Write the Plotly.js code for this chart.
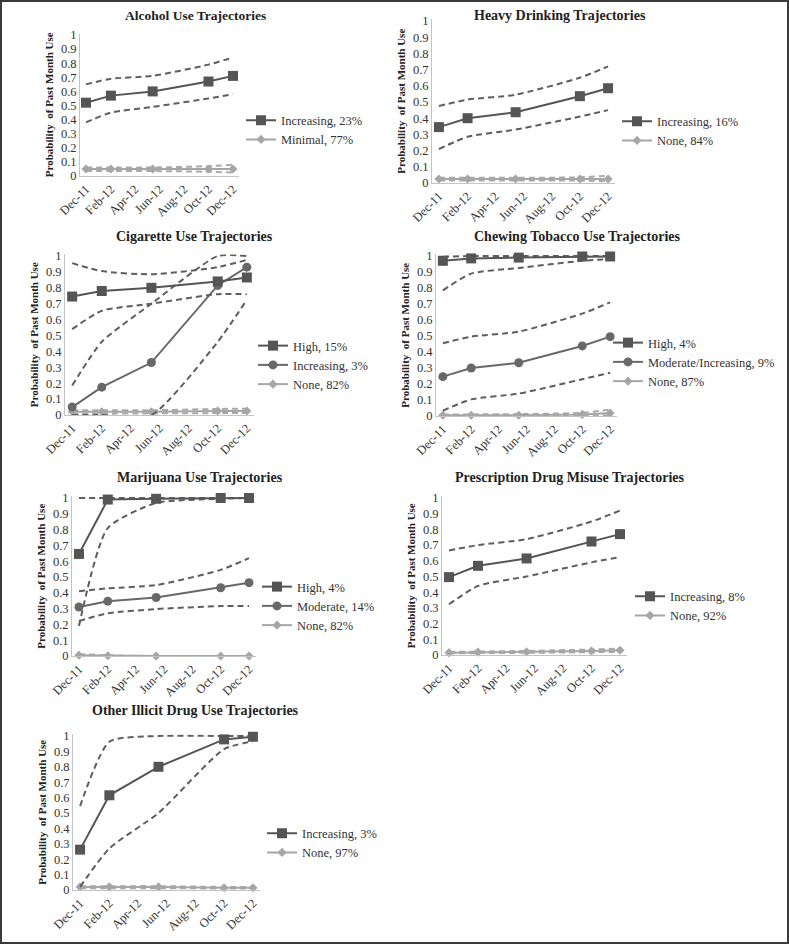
<!DOCTYPE html>
<html>
<head>
<meta charset="utf-8">
<script src="https://cdn.plot.ly/plotly-3.0.1.min.js"></script>
<style>
  html, body { margin: 0; padding: 0; background: #ffffff; }
  #chart { width: 789px; height: 944px; }
</style>
</head>
<body>
<div id="chart"></div>
<script>
// survey waves and axis ticks
const waves = ['2011-12-01', '2012-02-01', '2012-05-15', '2012-10-01', '2012-12-01'];
const monthTicks = ['2011-12-01', '2012-02-01', '2012-04-01', '2012-06-01', '2012-08-01', '2012-10-01', '2012-12-01'];
const monthLabels = ['Dec-11', 'Feb-12', 'Apr-12', 'Jun-12', 'Aug-12', 'Oct-12', 'Dec-12'];

const panelTitles = [
  'Alcohol Use Trajectories',
  'Heavy Drinking Trajectories',
  'Cigarette Use Trajectories',
  'Chewing Tobacco Use Trajectories',
  'Marijuana Use Trajectories',
  'Prescription Drug Misuse Trajectories',
  'Other Illicit Drug Use Trajectories'
];

// 1. alcohol
const alcIncreasing   = [0.52, 0.57, 0.60, 0.67, 0.71];
const alcIncreasingHi = [0.65, 0.69, 0.71, 0.79, 0.84];
const alcIncreasingLo = [0.38, 0.45, 0.49, 0.55, 0.58];
const alcMinimal      = [0.05, 0.05, 0.05, 0.05, 0.05];
const alcMinimalHi    = [0.06, 0.06, 0.06, 0.07, 0.08];
const alcMinimalLo    = [0.035, 0.035, 0.035, 0.03, 0.025];

// 2. heavy drinking
const hdIncreasing   = [0.345, 0.40, 0.437, 0.536, 0.585];
const hdIncreasingHi = [0.475, 0.515, 0.545, 0.65, 0.72];
const hdIncreasingLo = [0.21, 0.285, 0.33, 0.41, 0.45];
const hdNone         = [0.025, 0.025, 0.025, 0.025, 0.025];
const hdNoneHi       = [0.032, 0.032, 0.032, 0.035, 0.045];
const hdNoneLo       = [0.015, 0.015, 0.015, 0.015, 0.012];

// 3. cigarettes
const cigHigh         = [0.745, 0.78, 0.80, 0.84, 0.865];
const cigHighHi       = [0.955, 0.905, 0.885, 0.93, 0.975];
const cigHighLo       = [0.54, 0.655, 0.70, 0.76, 0.76];
const cigIncreasing   = [0.05, 0.175, 0.33, 0.815, 0.93];
const cigIncreasingHi = [0.185, 0.46, 0.70, 1.0, 1.0];
const cigIncreasingLo = [0.0, 0.0, 0.0, 0.46, 0.725];
const cigNone         = [0.02, 0.02, 0.02, 0.025, 0.025];
const cigNoneHi       = [0.03, 0.03, 0.03, 0.038, 0.04];
const cigNoneLo       = [0.01, 0.01, 0.01, 0.012, 0.012];

// 4. chewing tobacco
const chwHigh     = [0.97, 0.985, 0.99, 0.997, 0.997];
const chwHighHi   = [0.995, 1.0, 1.0, 1.0, 1.0];
const chwHighLo   = [0.785, 0.89, 0.925, 0.97, 0.98];
const chwModerate   = [0.246, 0.30, 0.333, 0.438, 0.496];
const chwModerateHi = [0.455, 0.496, 0.527, 0.64, 0.71];
const chwModerateLo = [0.033, 0.104, 0.14, 0.23, 0.27];
const chwNone     = [0.005, 0.005, 0.005, 0.01, 0.018];
const chwNoneHi   = [0.01, 0.01, 0.012, 0.02, 0.04];
const chwNoneLo   = [0.0, 0.0, 0.0, 0.003, 0.005];

// 5. marijuana
const mjHigh       = [0.646, 0.99, 0.995, 1.0, 1.0];
const mjHighHi     = [1.0, 1.0, 1.0, 1.0, 1.0];
const mjHighLo     = [0.19, 0.81, 0.968, 0.995, 1.0];
const mjModerate   = [0.31, 0.347, 0.37, 0.432, 0.464];
const mjModerateHi = [0.41, 0.428, 0.449, 0.545, 0.62];
const mjModerateLo = [0.222, 0.27, 0.297, 0.316, 0.316];
const mjNone       = [0.005, 0.002, 0.0, 0.0, 0.0];
const mjNoneHi     = [0.012, 0.004, 0.0, 0.0, 0.0];
const mjNoneLo     = [0.0, 0.0, 0.0, 0.0, 0.0];

// 6. prescription drugs
const rxIncreasing   = [0.496, 0.568, 0.615, 0.723, 0.77];
const rxIncreasingHi = [0.666, 0.70, 0.738, 0.85, 0.92];
const rxIncreasingLo = [0.323, 0.44, 0.50, 0.59, 0.623];
const rxNone         = [0.015, 0.018, 0.02, 0.025, 0.03];
const rxNoneHi       = [0.02, 0.022, 0.026, 0.035, 0.04];
const rxNoneLo       = [0.01, 0.012, 0.014, 0.018, 0.02];

// 7. other illicit drugs
const oiIncreasing   = [0.262, 0.615, 0.80, 0.978, 0.995];
const oiIncreasingHi = [0.545, 0.963, 1.0, 1.0, 1.0];
const oiIncreasingLo = [0.02, 0.27, 0.50, 0.915, 0.965];
const oiNone         = [0.02, 0.02, 0.02, 0.015, 0.015];
const oiNoneHi       = [0.025, 0.025, 0.025, 0.02, 0.02];
const oiNoneLo       = [0.012, 0.012, 0.012, 0.01, 0.01];

// series per panel: [legend label, values, upper, lower, style]
const panelSeries = [
  [['Increasing, 23%', alcIncreasing, alcIncreasingHi, alcIncreasingLo, 'dark'],
   ['Minimal, 77%', alcMinimal, alcMinimalHi, alcMinimalLo, 'light']],
  [['Increasing, 16%', hdIncreasing, hdIncreasingHi, hdIncreasingLo, 'dark'],
   ['None, 84%', hdNone, hdNoneHi, hdNoneLo, 'light']],
  [['High, 15%', cigHigh, cigHighHi, cigHighLo, 'dark'],
   ['Increasing, 3%', cigIncreasing, cigIncreasingHi, cigIncreasingLo, 'mid'],
   ['None, 82%', cigNone, cigNoneHi, cigNoneLo, 'light']],
  [['High, 4%', chwHigh, chwHighHi, chwHighLo, 'dark'],
   ['Moderate/Increasing, 9%', chwModerate, chwModerateHi, chwModerateLo, 'mid'],
   ['None, 87%', chwNone, chwNoneHi, chwNoneLo, 'light']],
  [['High, 4%', mjHigh, mjHighHi, mjHighLo, 'dark'],
   ['Moderate, 14%', mjModerate, mjModerateHi, mjModerateLo, 'mid'],
   ['None, 82%', mjNone, mjNoneHi, mjNoneLo, 'light']],
  [['Increasing, 8%', rxIncreasing, rxIncreasingHi, rxIncreasingLo, 'dark'],
   ['None, 92%', rxNone, rxNoneHi, rxNoneLo, 'light']],
  [['Increasing, 3%', oiIncreasing, oiIncreasingHi, oiIncreasingLo, 'dark'],
   ['None, 97%', oiNone, oiNoneHi, oiNoneLo, 'light']]
];

// ---------- layout geometry (pixels in the 789x944 page) ----------
const W = 789, H = 944;
const SERIF = 'Liberation Serif, Times New Roman, serif';
const STYLE = {
  dark:  { color: '#555555', symbol: 'square',  size: 10, ci: '#5e5e5e', width: 2 },
  mid:   { color: '#686868', symbol: 'circle',  size: 9,  ci: '#5e5e5e', width: 2 },
  light: { color: '#a6a6a6', symbol: 'diamond', size: 7,  ci: '#a9a9a9', width: 2 }
};
// x0/x1: plot left/right, yTop (value 1) / yBot (value 0), title centre, legend left/middle
const boxes = [
  { x0: 80,  x1: 239, yTop: 35,  yBot: 176, tx: 195, ty: 16,  lx: 241, ly: 130, ts: 13.5 },
  { x0: 432, x1: 615, yTop: 21,  yBot: 183, tx: 560, ty: 15,  lx: 617, ly: 131, ts: 14 },
  { x0: 65,  x1: 254, yTop: 256, yBot: 415, tx: 194, ty: 236, lx: 253, ly: 365, ts: 14 },
  { x0: 436, x1: 617, yTop: 256, yBot: 416, tx: 577, ty: 236, lx: 608, ly: 362, ts: 14 },
  { x0: 72,  x1: 256, yTop: 498, yBot: 656, tx: 200, ty: 477, lx: 257, ly: 606, ts: 14 },
  { x0: 442, x1: 627, yTop: 498, yBot: 655, tx: 570, ty: 477, lx: 630, ly: 606, ts: 14 },
  { x0: 73,  x1: 260, yTop: 736, yBot: 890, tx: 195, ty: 710, lx: 262, ly: 843, ts: 14 }
];
const X_RANGE = ['2011-11-16', '2012-12-16'];
const Y_MAX = 1.01;

const data = [];
const layout = {
  width: W, height: H,
  margin: { l: 0, r: 0, t: 0, b: 0 },
  paper_bgcolor: '#ffffff',
  plot_bgcolor: '#ffffff',
  font: { family: SERIF, size: 12, color: '#333333' },
  showlegend: true,
  annotations: [],
  shapes: [{ type: 'rect', xref: 'paper', yref: 'paper', x0: 0, x1: 1, y0: 0, y1: 1,
             line: { color: '#3a3a3a', width: 4 } }]
};

boxes.forEach((b, i) => {
  const n = i + 1;
  const xa = 'x' + (n === 1 ? '' : n), ya = 'y' + (n === 1 ? '' : n);
  const lg = 'legend' + (n === 1 ? '' : n);
  const top = b.yTop - (Y_MAX - 1) * (b.yBot - b.yTop);

  layout['xaxis' + (n === 1 ? '' : n)] = {
    domain: [b.x0 / W, b.x1 / W], anchor: ya, type: 'date', range: X_RANGE,
    tickmode: 'array', tickvals: monthTicks, ticktext: monthLabels, tickangle: -45,
    showline: true, linecolor: '#c4c4c4', linewidth: 1, showgrid: false, zeroline: false,
    ticks: '', tickfont: { family: SERIF, size: 12.5, color: '#333333' }, fixedrange: true
  };
  layout['yaxis' + (n === 1 ? '' : n)] = {
    domain: [1 - b.yBot / H, 1 - top / H], anchor: xa, range: [0, Y_MAX],
    tickmode: 'linear', tick0: 0, dtick: 0.1,
    showline: true, linecolor: '#c4c4c4', linewidth: 1, showgrid: false, zeroline: false,
    ticks: '', tickfont: { family: SERIF, size: 12.5, color: '#333333' }, fixedrange: true,
    title: { text: '<b>Probability  of Past Month Use</b>', standoff: 5,
             font: { family: SERIF, size: 11, color: '#222222' } }
  };
  layout[lg] = {
    x: b.lx / W, y: 1 - b.ly / H, xanchor: 'left', yanchor: 'middle',
    bgcolor: 'rgba(0,0,0,0)', borderwidth: 0, itemwidth: 30, tracegroupgap: 0,
    font: { family: SERIF, size: 12.5, color: '#333333' }, traceorder: 'normal'
  };
  layout.annotations.push({
    xref: 'paper', yref: 'paper', x: b.tx / W, y: 1 - b.ty / H, xanchor: 'center', yanchor: 'middle',
    text: '<b>' + panelTitles[i] + '</b>', showarrow: false,
    font: { family: SERIF, size: b.ts, color: '#222222' }
  });

  // draw light groups first so dark lines sit on top; legend keeps original order via legendrank
  const series = panelSeries[i];
  series.slice().reverse().forEach((s) => {
    const [label, vals, hi, lo, styleKey] = s;
    const st = STYLE[styleKey];
    [hi, lo].forEach((band) => {
      data.push({
        x: waves, y: band, xaxis: xa, yaxis: ya, type: 'scatter', mode: 'lines',
        line: { color: st.ci, width: 2, dash: '6px,4px', shape: 'spline', smoothing: 0.6 },
        showlegend: false, hoverinfo: 'skip', cliponaxis: false
      });
    });
    data.push({
      x: waves, y: vals, xaxis: xa, yaxis: ya, type: 'scatter', mode: 'lines+markers',
      name: label, legend: lg, legendrank: series.indexOf(s) + 1,
      line: { color: st.color, width: st.width },
      marker: { color: st.color, symbol: st.symbol, size: st.size },
      hoverinfo: 'skip', cliponaxis: false
    });
  });
});

Plotly.newPlot('chart', data, layout, { staticPlot: true, displayModeBar: false });
</script>
</body>
</html>
